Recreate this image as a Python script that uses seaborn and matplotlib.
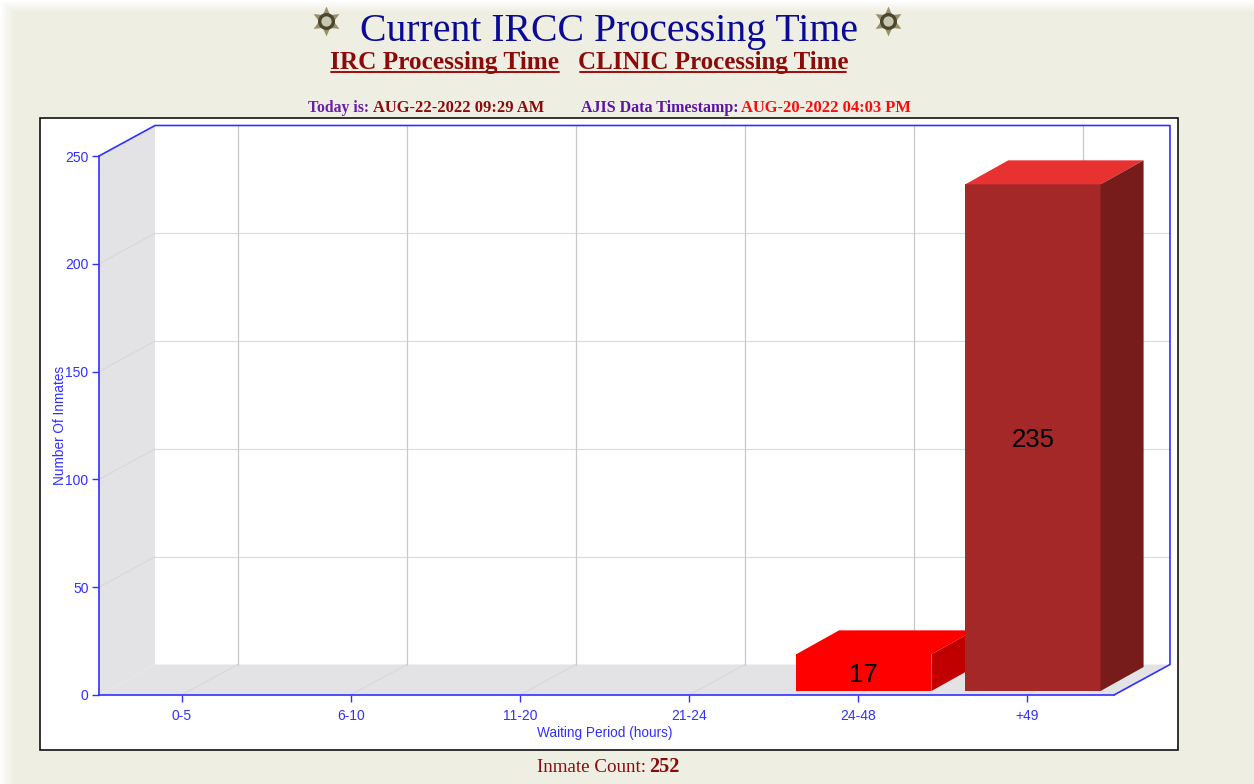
import numpy as np
import pandas as pd
import matplotlib
matplotlib.use("Agg")
import matplotlib.pyplot as plt
from matplotlib.patches import Polygon, Rectangle
import seaborn as sns

# ---- data ----
categories = ["0-5", "6-10", "11-20", "21-24", "24-48", "+49"]
values = [0, 0, 0, 0, 17, 235]
front_colors = ["#FF0000", "#FF0000", "#FF0000", "#FF0000", "#FF0000", "#A52828"]
top_colors = ["#FF0000", "#FF0000", "#FF0000", "#FF0000", "#FF0000", "#E83232"]
side_colors = ["#C00000", "#C00000", "#C00000", "#C00000", "#C00000", "#771C1A"]
y_ticks = [0, 50, 100, 150, 200, 250]

BLUE = "#3030FF"
PAGE = "#EEEEE3"
W, H = 1254, 784

sns.set_theme(style="white")
plt.rcParams["font.family"] = ["Liberation Sans", "DejaVu Sans"]

fig = plt.figure(figsize=(W / 100, H / 100), dpi=100, facecolor=PAGE)

# page overlay in pixel coordinates
page = fig.add_axes([0, 0, 1, 1], zorder=0)
page.set_xlim(0, W)
page.set_ylim(H, 0)
page.axis("off")

# soft white fade along the left and top page edges
xx, yy = np.meshgrid(np.arange(W), np.arange(H))
fade = np.clip(1 - np.minimum(xx / 14, yy / 12), 0, 1)
overlay = np.ones((H, W, 4))
overlay[..., 3] = fade
page.imshow(overlay, extent=(0, W, H, 0), aspect="auto", zorder=0.5, interpolation="nearest")
page.set_xlim(0, W)
page.set_ylim(H, 0)

page.add_patch(Rectangle((40, 118), 1138, 632, facecolor="white", edgecolor="#111111",
                         linewidth=1.2, zorder=1))

SERIF = ["Liberation Serif", "DejaVu Serif"]
page.text(608.5, 31, "Current IRCC Processing Time", family=SERIF, fontsize=28.6, color="#0A0A96",
          ha="center", va="center")
page.text(445, 62, "IRC Processing Time", family=SERIF, fontsize=18.2, weight="bold", color="#8B0A0A",
          ha="center", va="center")
page.text(713, 62, "CLINIC Processing Time", family=SERIF, fontsize=18.0, weight="bold", color="#8B0A0A",
          ha="center", va="center")
page.plot([331, 559], [72, 72], color="#A00A0A", lw=1.4)
page.plot([580, 846], [72, 72], color="#A00A0A", lw=1.4)
for px, txt, col, fs in [(308, "Today is:", "#6A1FA8", 11.3), (373, "AUG-22-2022 09:29 AM", "#8B0A0A", 11.9),
                         (581, "AJIS Data Timestamp:", "#5A14A8", 11.5), (741, "AUG-20-2022 04:03 PM", "#FF0A0A", 11.9)]:
    page.text(px, 108, txt, family=SERIF, fontsize=fs, weight="bold", color=col, ha="left", va="center")
page.text(537, 767, "Inmate Count:", family=SERIF, fontsize=13.7, color="#8B0A0A", ha="left", va="center")
page.text(649, 767, "252", family=SERIF, fontsize=14.5, weight="bold", color="#8B0A0A", ha="left", va="center")
# sheriff badges beside the title
for bx in (326, 888):
    page.scatter([bx], [21], marker=(6, 1, 0), s=460, color="#9A9068", linewidths=0, zorder=3)
    page.scatter([bx], [21], marker="o", s=150, color="#4A4632", linewidths=0, zorder=4)
    page.scatter([bx], [21], marker="o", s=55, color="#C9C6AE", linewidths=0, zorder=5)

# main chart axes
ax = fig.add_axes([99 / W, (H - 695) / H, (1114 - 99) / W, (695 - 156) / H], zorder=1)
ax.patch.set_alpha(0)

frame = pd.DataFrame({"category": categories, "value": values})
sns.barplot(data=frame, x="category", y="value", hue="category", palette=front_colors,
            order=categories, hue_order=categories, width=0.8, legend=False, saturation=1,
            linewidth=0, ax=ax)
ax.set_xlim(-0.5, 5.5)
ax.set_ylim(0, 250)

px_x = (1114 - 99) / 6      # pixels per category
px_y = (695 - 156) / 250    # pixels per unit
DX, DY = 56 / px_x, 30.5 / px_y        # depth of the chart box
BDX, BDY = 43 / px_x, 24 / px_y        # depth of a bar
SHIFT, BASE = 3.5 / px_x, 4 / px_y     # bars stand slightly inside the floor
TICK = -2 / px_x
x0, x1 = -0.5, 5.5
y0, y1 = 0, 250
WALL = "#E3E3E6"
GRID = "#C8C8C8"
GRID_SOFT = "#DCDCDE"
GRID_SIDE = "#D9D9DC"
ticks_x = np.arange(len(categories)) + TICK

# side wall and floor
ax.add_patch(Polygon([(x0, y0), (x0 + DX, y0 + DY), (x0 + DX, y1 + DY), (x0, y1)], closed=True,
                     facecolor=WALL, edgecolor="none", clip_on=False, zorder=0.5))
ax.add_patch(Polygon([(x0, y0), (x0 + DX, y0 + DY), (x1 + DX, y0 + DY), (x1, y0)], closed=True,
                     facecolor=WALL, edgecolor="none", clip_on=False, zorder=0.5))
# grid on the walls
for v in y_ticks[1:-1]:
    ax.plot([x0 + DX, x1 + DX], [v + DY, v + DY], color=GRID_SOFT, lw=0.9, clip_on=False, zorder=0.7)
    ax.plot([x0, x0 + DX], [v, v + DY], color=GRID_SIDE, lw=0.9, clip_on=False, zorder=0.7)
for t in ticks_x:
    ax.plot([t + DX, t + DX], [y0 + DY, y1 + DY], color=GRID, lw=0.9, clip_on=False, zorder=0.7)
    ax.plot([t, t + DX], [y0, y0 + DY], color=GRID_SIDE, lw=0.9, clip_on=False, zorder=0.7)
# blue outline of the box
ax.plot([x0, x0 + DX, x1 + DX, x1 + DX, x1], [y1, y1 + DY, y1 + DY, y0 + DY, y0],
        color=BLUE, lw=1.2, clip_on=False, zorder=2)

# 3D faces of the bars
for i, (bar, val) in enumerate(zip(ax.patches[:len(values)], values)):
    bar.set_x(bar.get_x() + SHIFT)
    bar.set_y(bar.get_y() + BASE)
    bar.set_zorder(3 + i)
    if val == 0:
        bar.set_visible(False)
        continue
    left, right = bar.get_x(), bar.get_x() + bar.get_width()
    bot, top = bar.get_y(), bar.get_y() + bar.get_height()
    ax.add_patch(Polygon([(left, top), (right, top), (right + BDX, top + BDY), (left + BDX, top + BDY)],
                         closed=True, facecolor=top_colors[i], edgecolor="none", clip_on=False, zorder=3 + i))
    ax.add_patch(Polygon([(right, bot), (right + BDX, bot + BDY), (right + BDX, top + BDY), (right, top)],
                         closed=True, facecolor=side_colors[i], edgecolor="none", clip_on=False, zorder=3 + i))
    ax.text((left + right) / 2, (bot + top) / 2 - 1, str(val), fontsize=18.5, color="black",
            ha="center", va="center", zorder=20, clip_on=False)

# axes styling
sns.despine(ax=ax, top=True, right=True)
for name in ("left", "bottom"):
    ax.spines[name].set_color(BLUE)
    ax.spines[name].set_linewidth(1.2)
    ax.spines[name].set_zorder(2)
ax.set_xticks(ticks_x, categories)
ax.set_yticks(y_ticks)
ax.tick_params(axis="both", colors=BLUE, labelsize=10, length=5, width=1, pad=2.5,
               left=True, bottom=True)
ax.tick_params(axis="x", pad=5)
ax.set_xlabel("Waiting Period (hours)", fontsize=9.8, color=BLUE)
ax.set_ylabel("Number Of Inmates", fontsize=9.8, color=BLUE)
ax.xaxis.set_label_coords((604.5 - 99) / 1015, (695 - 726) / 539, ax.transAxes)
ax.yaxis.set_label_coords((67 - 99) / 1015, (695 - 425) / 539, ax.transAxes)

fig.savefig("out.png", dpi=100, facecolor=PAGE)
